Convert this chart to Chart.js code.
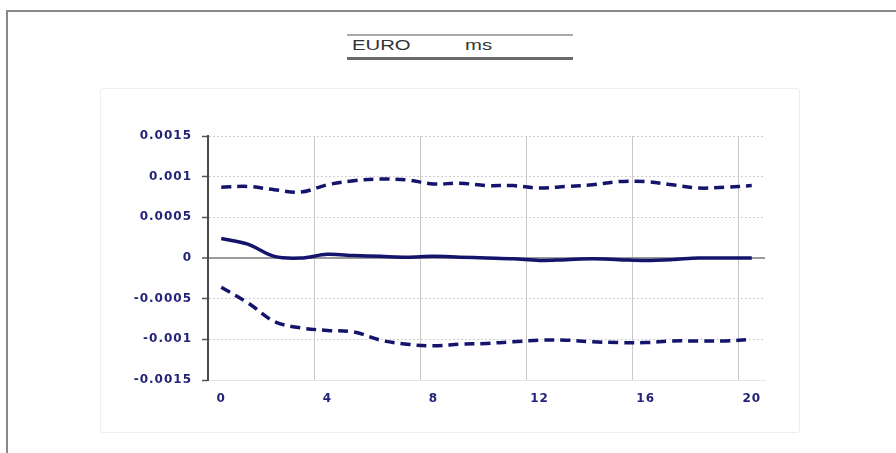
<!DOCTYPE html>
<html>
<head>
<meta charset="utf-8">
<script src="https://cdn.jsdelivr.net/npm/chart.js@4/dist/chart.umd.min.js"></script>
<style>
  html, body { margin: 0; padding: 0; background: #fff; overflow: hidden; }
  body { width: 896px; height: 453px; position: relative; font-family: Arial, "Liberation Sans", sans-serif; }
  .edge-h { position: absolute; left: 6px; top: 10px; width: 900px; height: 2px; background: #888; }
  .edge-v { position: absolute; left: 6px; top: 10px; width: 2px; height: 450px; background: #888; }
  .ttl-top { position: absolute; left: 347px; top: 34px; width: 226px; height: 2px; background: #aaa; }
  .ttl-bot { position: absolute; left: 347px; top: 57px; width: 226px; height: 3px; background: #6a6a6a; }
  .ttl { position: absolute; top: 37px; font-size: 14px; color: #333; transform: scaleX(1.45); transform-origin: left center; }
  .plotbox { position: absolute; left: 100px; top: 88px; width: 698px; height: 343px; border: 1px solid #eeeeee; border-radius: 3px; }
  #chart { position: absolute; left: 0; top: 0; }
</style>
</head>
<body>
<div class="edge-h"></div>
<div class="edge-v"></div>
<div class="ttl-top"></div>
<div class="ttl" style="left:352px">EURO</div>
<div class="ttl" style="left:465px">ms</div>
<div class="ttl-bot"></div>
<div class="plotbox"></div>
<canvas id="chart" width="896" height="453"></canvas>
<script>
// horizon 0..20, response bands
const horizons = Array.from({ length: 21 }, (_, i) => String(i));
const upperBand = [0.00087, 0.00088, 0.00084, 0.00081, 0.00090, 0.00095, 0.00097, 0.00096, 0.00091, 0.00092, 0.00089,
                   0.00089, 0.00086, 0.00088, 0.00090, 0.00094, 0.00094, 0.00090, 0.00086, 0.00087, 0.00089];
const response  = [0.00024, 0.00017, 0.00002, 0.00000, 0.000045, 0.00003, 0.00002, 0.00001, 0.00002, 0.00001, 0.00000,
                   -0.00001, -0.00003, -0.00002, -0.00001, -0.00002, -0.00003, -0.00002, 0.00000, 0.00000, 0.00000];
const lowerBand = [-0.00036, -0.00055, -0.00078, -0.00086, -0.00089, -0.00091, -0.00101, -0.00106, -0.00108, -0.00106, -0.00105,
                   -0.00103, -0.00101, -0.00101, -0.00103, -0.00104, -0.00104, -0.00102, -0.00102, -0.00102, -0.00100];
const yTicks = [-0.0015, -0.001, -0.0005, 0, 0.0005, 0.001, 0.0015];

const NAVY = "#14146c";
const LABEL = "#232378";
const tickFont = { family: "'DejaVu Sans', Verdana, sans-serif", size: 12, weight: "bold" };

// wider letter spacing on axis labels
const spacing = {
  id: "spacing",
  beforeDraw(chart) { chart.ctx.letterSpacing = "1px"; },
};

new Chart(document.getElementById("chart"), {
  type: "line",
  data: {
    labels: horizons,
    datasets: [
      { data: upperBand, borderColor: NAVY, borderWidth: 3.5, borderDash: [10, 6], tension: 0.35 },
      { data: response, borderColor: NAVY, borderWidth: 3.5, tension: 0.35 },
      { data: lowerBand, borderColor: NAVY, borderWidth: 3.5, borderDash: [10, 6], tension: 0.35 },
    ],
  },
  plugins: [spacing],
  options: {
    responsive: false,
    animation: false,
    layout: { padding: { left: 100, top: 136, right: 131, bottom: 43 } },
    elements: { point: { radius: 0 } },
    plugins: { legend: { display: false }, tooltip: { enabled: false } },
    scales: {
      x: {
        offset: true,
        afterFit(s) { s.height = 30; },
        grid: {
          offset: true,
          drawTicks: false,
          lineWidth: 1,
          color: c => (c.index % 4 === 0 && c.index > 0) ? "#c8c8c8" : "rgba(0,0,0,0)",
        },
        border: { color: "#e4e4e4", width: 1 },
        ticks: {
          autoSkip: false, maxRotation: 0, padding: 12, color: LABEL, font: tickFont,
          callback: (v, i) => (i % 4 === 0 ? horizons[i] : ""),
        },
      },
      y: {
        min: -0.0015, max: 0.0015,
        afterFit(s) { s.width = 108; },
        afterBuildTicks(s) { s.ticks = yTicks.map(v => ({ value: v })); },
        grid: {
          tickLength: 6, tickWidth: 1.5, tickColor: "#555",
          lineWidth: c => (c.tick && c.tick.value === 0 ? 2 : 1),
          color: c => (c.tick && c.tick.value === 0 ? "#9a9a9a" : "#cfcfcf"),
        },
        border: { color: "#4a4a4a", width: 2, dash: c => (c.tick && c.tick.value === 0 ? [] : [2, 2]) },
        ticks: {
          padding: 10, color: LABEL, font: tickFont,
          callback: v => String(+v.toFixed(4)),
        },
      },
    },
  },
});
</script>
</body>
</html>
